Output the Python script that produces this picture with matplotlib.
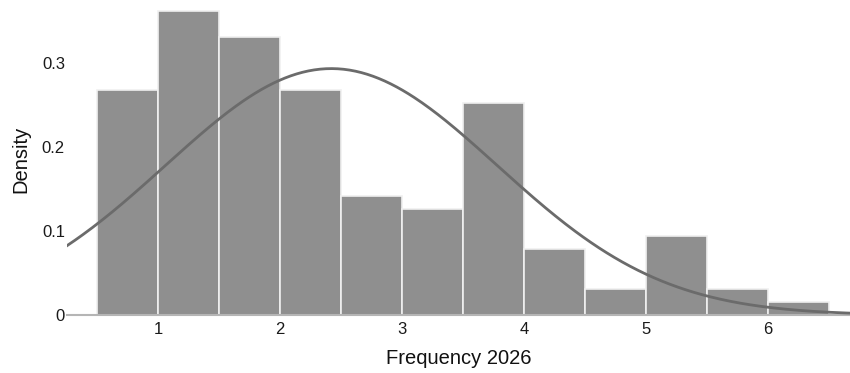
import numpy as np
import matplotlib
matplotlib.use("Agg")
import matplotlib.pyplot as plt
from matplotlib.ticker import FuncFormatter

plt.rcParams['font.family'] = ['Liberation Sans', 'DejaVu Sans']

# histogram bins (width 0.5) and density
bin_left = [0.5, 1.0, 1.5, 2.0, 2.5, 3.0, 3.5, 4.0, 4.5, 5.0, 5.5, 6.0]
density = [0.268, 0.362, 0.331, 0.268, 0.142, 0.126, 0.252, 0.079, 0.0315, 0.0945, 0.0315, 0.0158]
bin_width = 0.5

# fitted normal curve
mu = 2.42
sigma = 1.36

x_ticks = [1, 2, 3, 4, 5, 6]
y_ticks = [0, 0.1, 0.2, 0.3]

fig = plt.figure(figsize=(8.5, 3.73), dpi=100)
ax = fig.add_axes([67 / 850, 1 - 315 / 373, 1 - 67 / 850, (315 - 4.2) / 373])

ax.bar(bin_left, density, width=bin_width, align='edge',
       color='#8f8f8f', edgecolor='#f0f0f0', linewidth=1.2, zorder=1)

xmin, xmax = 0.254, 6.67
xs = np.linspace(xmin, xmax, 400)
pdf = np.exp(-0.5 * ((xs - mu) / sigma) ** 2) / (sigma * np.sqrt(2 * np.pi))
ax.plot(xs, pdf, color='#6b6b6b', linewidth=2, zorder=3)

ax.set_xlim(xmin, xmax)
ax.set_ylim(0, 0.37)
ax.set_xticks(x_ticks)
ax.set_yticks(y_ticks)
ax.yaxis.set_major_formatter(FuncFormatter(lambda v, p: f"{v:g}"))

for s in ['top', 'right', 'left']:
    ax.spines[s].set_visible(False)
ax.spines['bottom'].set_color('#b5b5b5')
ax.spines['bottom'].set_linewidth(1.5)
ax.spines['bottom'].set_zorder(2)

ax.tick_params(axis='both', length=0, labelsize=12, colors='#1a1a1a')
ax.tick_params(axis='x', pad=5)
ax.tick_params(axis='y', pad=1.5)

ax.set_xlabel('Frequency 2026', fontsize=14.5, color='#111111', labelpad=9)
ax.set_ylabel('Density', fontsize=14.5, color='#111111', labelpad=8)

fig.savefig('out.png', dpi=100)
